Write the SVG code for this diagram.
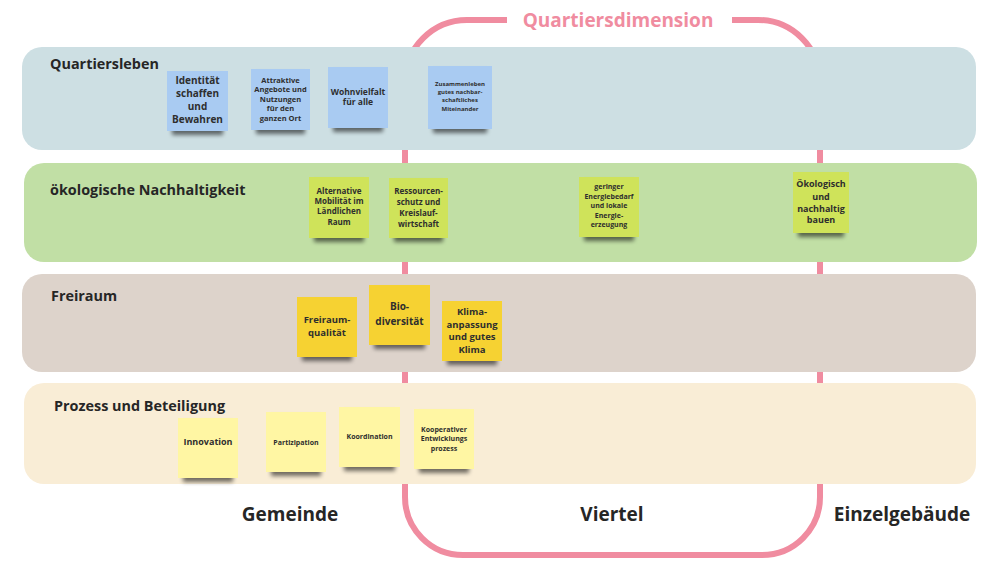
<svg xmlns="http://www.w3.org/2000/svg" width="987" height="562" viewBox="0 0 987 562">
<style>
text{font-family:"Open Sans","Noto Sans","Liberation Sans",sans-serif;fill:#262626}
.bt{font-size:14.4px;font-weight:700}
.bl{font-size:19px;font-weight:700;text-anchor:middle}
.n{text-anchor:middle;font-weight:700;fill:#2e2e2e}
.blue{fill:#A9CBF2}
.green{fill:#CFE35A}
.yel{fill:#F6D232}
.pale{fill:#FFF6A3}
.loop{fill:none;stroke:#F08CA0;stroke-width:6}
</style>
<defs>
<filter id="sh" x="-20%" y="-20%" width="140%" height="150%">
<feMorphology in="SourceAlpha" operator="erode" radius="5 0" result="e"/>
<feOffset in="e" dy="4" result="o"/>
<feGaussianBlur in="o" stdDeviation="2" result="b"/>
<feComponentTransfer in="b" result="c"><feFuncA type="linear" slope="0.55"/></feComponentTransfer>
<feMerge><feMergeNode in="c"/><feMergeNode in="SourceGraphic"/></feMerge>
</filter>
</defs>
<rect width="987" height="562" fill="#fff"/>
<g id="quartiersdimension">
<path class="loop" d="M507 20 H467 A62 62 0 0 0 405 82 V497 A58 58 0 0 0 463 555 H762 A58 58 0 0 0 820 497 V82 A62 62 0 0 0 758 20 H732"/>
<text x="618" y="27" text-anchor="middle" style="font-size:19px;font-weight:700;fill:#F08CA0">Quartiersdimension</text>
</g>
<g id="band-quartiersleben">
<rect x="22" y="47" width="954" height="103" rx="20" fill="#CDDFE3"/>
<text class="bt" x="50" y="69">Quartiersleben</text>
</g>
<g id="band-oekologie">
<rect x="24" y="163" width="953" height="99" rx="20" fill="#C1DFA5"/>
<text class="bt" x="50" y="195">ökologische Nachhaltigkeit</text>
</g>
<g id="band-freiraum">
<rect x="22" y="274" width="954" height="98" rx="20" fill="#DDD3CB"/>
<text class="bt" x="51" y="301">Freiraum</text>
</g>
<g id="band-prozess">
<rect x="24" y="383" width="952" height="101" rx="20" fill="#F9EDD6"/>
<text class="bt" x="54" y="411">Prozess und Beteiligung</text>
</g>

<g id="n-identitaet">
<rect class="blue" x="167" y="71" width="61" height="60" filter="url(#sh)"/>
<text class="n" style="font-size:10px"><tspan x="197.5" y="84">Identität</tspan><tspan x="197.5" y="97">schaffen</tspan><tspan x="197.5" y="110">und</tspan><tspan x="197.5" y="123">Bewahren</tspan></text>
</g>
<g id="n-attraktive">
<rect class="blue" x="251" y="69" width="59" height="61" filter="url(#sh)"/>
<text class="n" style="font-size:7.5px"><tspan x="280.5" y="83">Attraktive</tspan><tspan x="280.5" y="92">Angebote und</tspan><tspan x="280.5" y="102">Nutzungen</tspan><tspan x="280.5" y="111">für den</tspan><tspan x="280.5" y="121">ganzen Ort</tspan></text>
</g>
<g id="n-wohnvielfalt">
<rect class="blue" x="328" y="67" width="60" height="61" filter="url(#sh)"/>
<text class="n" style="font-size:8.5px"><tspan x="358" y="95">Wohnvielfalt</tspan><tspan x="358" y="105">für  alle</tspan></text>
</g>
<g id="n-zusammenleben">
<rect class="blue" x="428" y="66" width="64" height="63" filter="url(#sh)"/>
<text class="n" style="font-size:6px"><tspan x="460" y="86">Zusammenleben</tspan><tspan x="460" y="94">gutes nachbar-</tspan><tspan x="460" y="102">schaftliches</tspan><tspan x="460" y="111">Miteinander</tspan></text>
</g>

<g id="n-mobilitaet">
<rect class="green" x="309" y="177" width="60" height="61" filter="url(#sh)"/>
<text class="n" style="font-size:8px"><tspan x="339" y="194">Alternative</tspan><tspan x="339" y="204">Mobilität im</tspan><tspan x="339" y="214">Ländlichen</tspan><tspan x="339" y="225">Raum</tspan></text>
</g>
<g id="n-ressourcen">
<rect class="green" x="389" y="178" width="59" height="60" filter="url(#sh)"/>
<text class="n" style="font-size:8px"><tspan x="418.5" y="194">Ressourcen-</tspan><tspan x="418.5" y="205">schutz und</tspan><tspan x="418.5" y="216">Kreislauf-</tspan><tspan x="418.5" y="227">wirtschaft</tspan></text>
</g>
<g id="n-energie">
<rect class="green" x="579" y="177" width="60" height="60" filter="url(#sh)"/>
<text class="n" style="font-size:7px"><tspan x="609" y="189">geringer</tspan><tspan x="609" y="198.5">Energiebedarf</tspan><tspan x="609" y="208">und lokale</tspan><tspan x="609" y="217.5">Energie-</tspan><tspan x="609" y="227">erzeugung</tspan></text>
</g>
<g id="n-bauen">
<rect class="green" x="793" y="172" width="56" height="61" filter="url(#sh)"/>
<text class="n" style="font-size:9px"><tspan x="821" y="187">Ökologisch</tspan><tspan x="821" y="200">und</tspan><tspan x="821" y="211.5">nachhaltig</tspan><tspan x="821" y="223">bauen</tspan></text>
</g>

<g id="n-freiraumqualitaet">
<rect class="yel" x="297" y="297" width="60" height="60" filter="url(#sh)"/>
<text class="n" style="font-size:9.5px"><tspan x="327" y="323">Freiraum-</tspan><tspan x="327" y="336">qualität</tspan></text>
</g>
<g id="n-biodiversitaet">
<rect class="yel" x="369" y="285" width="61" height="60" filter="url(#sh)"/>
<text class="n" style="font-size:10px"><tspan x="399.5" y="310">Bio-</tspan><tspan x="399.5" y="325">diversität</tspan></text>
</g>
<g id="n-klima">
<rect class="yel" x="442" y="301" width="60" height="60" filter="url(#sh)"/>
<text class="n" style="font-size:9.5px"><tspan x="472" y="315">Klima-</tspan><tspan x="472" y="327.5">anpassung</tspan><tspan x="472" y="340">und gutes</tspan><tspan x="472" y="352.5">Klima</tspan></text>
</g>

<g id="n-innovation">
<rect class="pale" x="178" y="418" width="60" height="60" filter="url(#sh)"/>
<text class="n" x="208" y="445" style="font-size:9px">Innovation</text>
</g>
<g id="n-partizipation">
<rect class="pale" x="266" y="412" width="60" height="60" filter="url(#sh)"/>
<text class="n" x="296" y="444.5" style="font-size:7px">Partizipation</text>
</g>
<g id="n-koordination">
<rect class="pale" x="339" y="407" width="61" height="60" filter="url(#sh)"/>
<text class="n" x="369.5" y="438.5" style="font-size:7px">Koordination</text>
</g>
<g id="n-kooperativer">
<rect class="pale" x="414" y="409" width="60" height="60" filter="url(#sh)"/>
<text class="n" style="font-size:7px"><tspan x="444" y="431.5">Kooperativer</tspan><tspan x="444" y="441">Entwicklungs</tspan><tspan x="444" y="450.5">prozess</tspan></text>
</g>

<g id="labels">
<text class="bl" x="290" y="521">Gemeinde</text>
<text class="bl" x="612" y="521">Viertel</text>
<text class="bl" x="902" y="521">Einzelgebäude</text>
</g>
<g id="connectors"></g>
</svg>
